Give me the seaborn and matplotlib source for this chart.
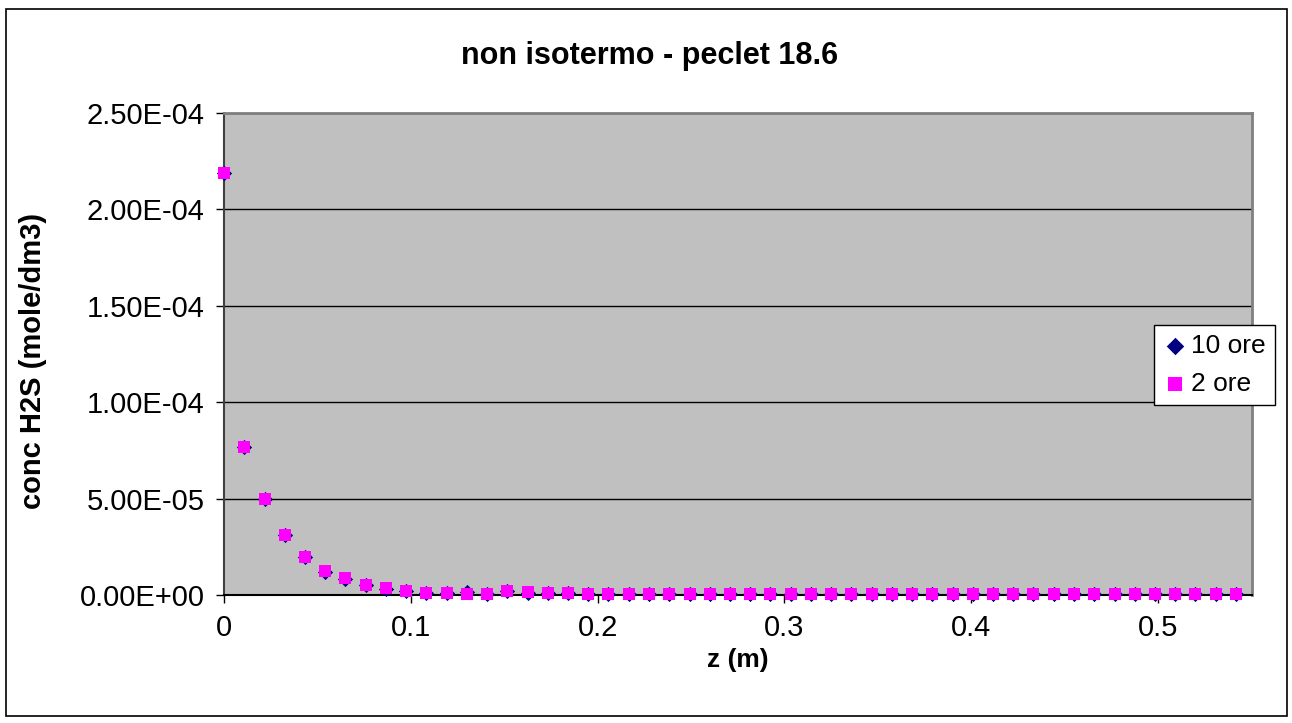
import matplotlib
matplotlib.use("Agg")
import matplotlib.pyplot as plt
import seaborn as sns
import pandas as pd
from matplotlib.ticker import FuncFormatter
from matplotlib.patches import Rectangle

z = [0.0000, 0.0108, 0.0217, 0.0325, 0.0433, 0.0542, 0.0650, 0.0758, 0.0867, 0.0975,
     0.1083, 0.1192, 0.1300, 0.1408, 0.1517, 0.1625, 0.1733, 0.1842, 0.1950, 0.2058,
     0.2167, 0.2275, 0.2383, 0.2492, 0.2600, 0.2708, 0.2817, 0.2925, 0.3033, 0.3142,
     0.3250, 0.3358, 0.3467, 0.3575, 0.3683, 0.3792, 0.3900, 0.4008, 0.4117, 0.4225,
     0.4333, 0.4442, 0.4550, 0.4658, 0.4767, 0.4875, 0.4983, 0.5092, 0.5200, 0.5308,
     0.5417]

conc_2ore = [2.19e-4, 7.69e-5, 4.98e-5, 3.11e-5, 1.99e-5, 1.22e-5, 8.6e-6, 5.3e-6, 3.5e-6, 2.2e-6,
             1.2e-6, 1.2e-6, 0.4e-6, 0.4e-6, 2.2e-6, 1.3e-6, 1.2e-6, 1.2e-6, 0.4e-6, 0.4e-6,
             0.4e-6, 0.4e-6, 0.4e-6, 0.4e-6, 0.4e-6, 0.4e-6, 0.4e-6, 0.4e-6, 0.4e-6, 0.4e-6,
             0.4e-6, 0.4e-6, 0.4e-6, 0.4e-6, 0.4e-6, 0.4e-6, 0.4e-6, 0.4e-6, 0.4e-6, 0.4e-6,
             0.4e-6, 0.4e-6, 0.4e-6, 0.4e-6, 0.4e-6, 0.4e-6, 0.4e-6, 0.4e-6, 0.4e-6, 0.4e-6,
             0.4e-6]

conc_10ore = [2.19e-4, 7.67e-5, 4.96e-5, 3.09e-5, 1.97e-5, 1.20e-5, 8.4e-6, 5.1e-6, 3.3e-6, 2.0e-6,
              1.0e-6, 1.0e-6, 1.4e-6, 0.3e-6, 2.0e-6, 1.1e-6, 1.0e-6, 1.0e-6, 0.3e-6, 0.3e-6,
              0.3e-6, 0.3e-6, 0.3e-6, 0.3e-6, 0.3e-6, 0.3e-6, 0.3e-6, 0.3e-6, 0.3e-6, 0.3e-6,
              0.3e-6, 0.3e-6, 0.3e-6, 0.3e-6, 0.3e-6, 0.3e-6, 0.3e-6, 0.3e-6, 0.3e-6, 0.3e-6,
              0.3e-6, 0.3e-6, 0.3e-6, 0.3e-6, 0.3e-6, 0.3e-6, 0.3e-6, 0.3e-6, 0.3e-6, 0.3e-6,
              0.3e-6]

series_names = ["10 ore", "2 ore"]
x_ticks = [0, 0.1, 0.2, 0.3, 0.4, 0.5]
x_tick_labels = ["0", "0.1", "0.2", "0.3", "0.4", "0.5"]
y_ticks = [0, 5e-5, 1e-4, 1.5e-4, 2e-4, 2.5e-4]

sns.set_style("white")
plt.rcParams["font.family"] = ["Liberation Sans", "DejaVu Sans"]
plt.rcParams["text.color"] = "black"
plt.rcParams["axes.labelcolor"] = "black"
plt.rcParams["xtick.color"] = "black"
plt.rcParams["ytick.color"] = "black"

df10 = pd.DataFrame({"z": z, "c": conc_10ore})
df2 = pd.DataFrame({"z": z, "c": conc_2ore})

fig = plt.figure(figsize=(12.92, 7.23), dpi=100)
ax = fig.add_axes([224 / 1292, 128 / 723, 1028 / 1292, 482 / 723])
ax.set_facecolor("#C0C0C0")

sns.scatterplot(data=df10, x="z", y="c", ax=ax, marker="D", s=60, color="#000080",
                edgecolor="#000080", linewidth=0, label=series_names[0], zorder=3, clip_on=False)
sns.scatterplot(data=df2, x="z", y="c", ax=ax, marker="s", s=70, color="#FF00FF",
                edgecolor="#FF00FF", linewidth=0, label=series_names[1], zorder=4, clip_on=False)

ax.set_xlim(0, 0.5503)
ax.set_ylim(0, 2.5e-4)
ax.set_xticks(x_ticks)
ax.set_xticklabels(x_tick_labels)
ax.set_yticks(y_ticks)
ax.yaxis.set_major_formatter(FuncFormatter(lambda v, p: f"{v:.2E}"))
ax.tick_params(axis="both", which="major", labelsize=21, length=6, width=1,
               color="black", labelcolor="black", direction="out", pad=8,
               bottom=True, left=True)
ax.grid(axis="y", color="black", linewidth=1)
ax.grid(axis="x", visible=False)
ax.set_axisbelow(True)

for side in ["top", "right"]:
    ax.spines[side].set_color("#808080")
    ax.spines[side].set_linewidth(2)
ax.spines["left"].set_color("#404040")
ax.spines["left"].set_linewidth(1.5)
ax.spines["bottom"].set_color("black")
ax.spines["bottom"].set_linewidth(1.5)

ax.set_xlabel("z (m)", fontsize=19, fontweight="bold", labelpad=4)
ax.set_ylabel("conc H2S (mole/dm3)", fontsize=21, fontweight="bold")
ax.yaxis.set_label_coords(47 / 1292, 362 / 723, transform=fig.transFigure)
fig.text(650 / 1292, 1 - 56 / 723, "non isotermo - peclet 18.6", fontsize=22,
         fontweight="bold", ha="center", va="center")

leg = ax.legend(loc="center left", bbox_to_anchor=(1154 / 1292, 1 - 365 / 723),
                bbox_transform=fig.transFigure, frameon=True, fontsize=19,
                fancybox=False, edgecolor="black", framealpha=1, handletextpad=0.15,
                borderpad=0.35, labelspacing=0.55, handlelength=0.9, borderaxespad=0,
                markerscale=1.15)
leg.get_frame().set_linewidth(1)
leg.set_zorder(10)

fig.patches.append(Rectangle((6 / 1292, 7 / 723), 1281 / 1292, 707 / 723,
                             transform=fig.transFigure, fill=False,
                             edgecolor="black", linewidth=1.2))

fig.savefig("out.png", dpi=100)
